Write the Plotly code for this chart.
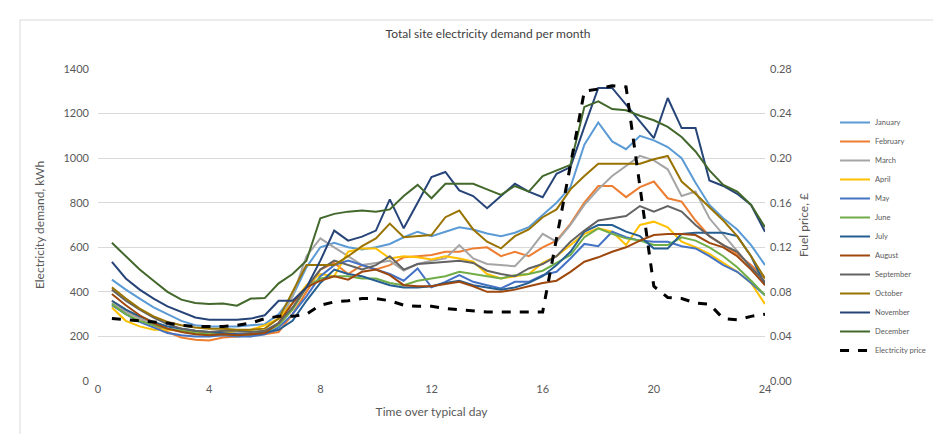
import plotly.graph_objects as go

hours = [h / 2 for h in range(1, 49)]

january = [455, 410, 370, 330, 300, 270, 250, 245, 245, 245, 250, 255, 300, 380, 510, 600,
           620, 600, 590, 600, 615, 645, 670, 650, 670, 690, 680, 662, 650, 665, 690, 745,
           800, 870, 1060, 1160, 1075, 1040, 1100, 1080, 1050, 1000, 890, 790, 730, 680, 610, 520]
february = [360, 320, 280, 250, 220, 195, 185, 182, 195, 200, 205, 210, 220, 300, 400, 500,
            530, 480, 520, 500, 520, 555, 560, 565, 580, 580, 595, 600, 560, 580, 560, 600,
            630, 705, 800, 875, 875, 825, 870, 895, 820, 805, 720, 650, 610, 570, 520, 460]
march = [350, 310, 280, 255, 235, 225, 220, 218, 220, 215, 215, 225, 260, 380, 560, 640,
         600, 560, 520, 530, 540, 495, 525, 540, 550, 610, 550, 525, 520, 515, 580, 660,
         625, 700, 790, 860, 920, 965, 1010, 990, 950, 830, 850, 730, 655, 580, 510, 445]
april = [330, 270, 245, 230, 230, 225, 220, 215, 215, 225, 230, 250, 280, 350, 430, 480,
         470, 580, 595, 595, 550, 560, 555, 545, 560, 550, 535, 480, 460, 470, 480, 530,
         560, 610, 660, 685, 670, 610, 700, 715, 690, 625, 600, 570, 530, 490, 440, 345]
may = [340, 300, 265, 240, 215, 205, 200, 200, 205, 200, 200, 210, 240, 300, 380, 470,
       520, 540, 520, 500, 480, 450, 505, 420, 445, 475, 445, 430, 415, 445, 445, 475,
       490, 550, 615, 605, 670, 645, 630, 625, 625, 605, 595, 560, 520, 490, 440, 385]
june = [345, 300, 270, 250, 235, 225, 215, 210, 210, 205, 210, 220, 250, 320, 420, 460,
        470, 470, 460, 460, 440, 430, 450, 460, 470, 490, 480, 470, 460, 475, 480, 495,
        530, 565, 645, 685, 660, 640, 630, 610, 610, 645, 630, 600, 560, 510, 450, 385]
july = [360, 320, 290, 265, 245, 235, 225, 220, 215, 210, 210, 215, 230, 270, 360, 440,
        500, 480, 470, 450, 430, 420, 420, 425, 440, 450, 430, 420, 410, 420, 440, 470,
        520, 580, 670, 700, 700, 670, 650, 595, 595, 660, 665, 665, 665, 650, 560, 430]
august = [390, 340, 295, 260, 235, 220, 210, 205, 210, 205, 210, 215, 260, 350, 420, 450,
          470, 455, 490, 500, 475, 430, 425, 425, 435, 445, 425, 400, 400, 410, 425, 440,
          450, 490, 535, 555, 580, 600, 630, 655, 660, 660, 655, 620, 600, 560, 500, 430]
september = [410, 360, 320, 285, 255, 235, 225, 220, 225, 225, 220, 225, 260, 330, 420, 500,
             540, 520, 500, 520, 560, 500, 525, 530, 535, 540, 530, 495, 480, 470, 505, 525,
             560, 625, 675, 720, 730, 740, 785, 760, 785, 760, 700, 650, 610, 580, 510, 445]
october = [420, 370, 325, 290, 265, 250, 240, 235, 235, 230, 230, 235, 280, 400, 520, 520,
           520, 560, 605, 640, 706, 645, 650, 655, 735, 765, 680, 625, 595, 650, 680, 735,
           770, 860, 920, 975, 975, 975, 975, 995, 1010, 895, 840, 780, 720, 650, 560, 460]
november = [535, 460, 410, 370, 335, 310, 285, 275, 275, 275, 280, 295, 360, 360, 420, 540,
            675, 630, 648, 675, 815, 685, 800, 915, 938, 855, 830, 775, 830, 885, 850, 825,
            930, 960, 1140, 1315, 1315, 1240, 1160, 1090, 1270, 1135, 1135, 900, 875, 840, 790, 670]
december = [620, 560, 500, 450, 400, 365, 350, 345, 348, 338, 370, 372, 438, 480, 540, 730,
            750, 760, 765, 760, 770, 830, 880, 820, 885, 885, 885, 860, 835, 875, 850, 920,
            945, 970, 1230, 1255, 1220, 1215, 1190, 1170, 1140, 1095, 1030, 945, 880, 850, 790, 690]
price = [0.056, 0.055, 0.054, 0.053, 0.052, 0.050, 0.049, 0.049, 0.049, 0.050, 0.052, 0.056,
         0.058, 0.058, 0.060, 0.068, 0.071, 0.072, 0.074, 0.074, 0.072, 0.068, 0.067, 0.067,
         0.065, 0.064, 0.063, 0.062, 0.062, 0.062, 0.062, 0.062, 0.128, 0.194, 0.260, 0.262,
         0.265, 0.264, 0.175, 0.085, 0.075, 0.074, 0.070, 0.069, 0.056, 0.055, 0.058, 0.060]

month_names = ["January", "February", "March", "April", "May", "June", "July",
               "August", "September", "October", "November", "December"]
month_values = [january, february, march, april, may, june, july,
                august, september, october, november, december]
month_colors = ["#5B9BD5", "#ED7D31", "#A5A5A5", "#FFC000", "#4472C4", "#70AD47",
                "#255E91", "#9E480E", "#636363", "#997300", "#264478", "#43682B"]

fig = go.Figure()
for name, vals, col in zip(month_names, month_values, month_colors):
    fig.add_trace(go.Scatter(x=hours, y=vals, name=name, mode="lines",
                             line=dict(color=col, width=2)))
fig.add_trace(go.Scatter(x=hours, y=price, name="Electricity price", mode="lines",
                         yaxis="y2", line=dict(color="black", width=3, dash="dash")))

gray = "#595959"
fig.update_layout(
    width=941, height=434,
    margin=dict(l=90, r=184, t=61, b=61),
    paper_bgcolor="white", plot_bgcolor="white",
    font=dict(family="Lato, Liberation Sans, sans-serif", color=gray, size=11),
    title=dict(text="Total site electricity demand per month", x=480 / 941, xref="container",
               xanchor="center", y=1 - 26 / 434, yanchor="middle",
               font=dict(size=12, color="#404040")),
    xaxis=dict(range=[0, 24], tickvals=[0, 4, 8, 12, 16, 20, 24], showgrid=False,
               zeroline=False, showline=False, ticks="", ticklabelstandoff=0,
               title=dict(text="Time over typical day", font=dict(size=12, color=gray), standoff=13)),
    yaxis=dict(range=[0, 1400], dtick=200, showgrid=True, gridcolor="#D9D9D9", gridwidth=1,
               zeroline=False, ticks="", ticklabelstandoff=8,
               title=dict(text="Electricity demand, kWh", font=dict(size=12, color=gray), standoff=16)),
    yaxis2=dict(range=[0, 0.28], dtick=0.04, tickformat=".2f", overlaying="y", side="right",
                showgrid=False, zeroline=False, ticks="", ticklabelstandoff=4,
                title=dict(text="Fuel price, £", font=dict(size=12, color=gray), standoff=8)),
    legend=dict(x=1.105, xanchor="left", y=0.875, yanchor="top", font=dict(size=7.5, color=gray),
                bgcolor="rgba(0,0,0,0)", tracegroupgap=0),
    shapes=[dict(type="rect", xref="paper", yref="paper",
                 x0=-78 / 667, x1=(935 - 90) / 667, y0=-(428 - 373) / 312, y1=(373 - 12) / 312,
                 line=dict(color="#D9D9D9", width=1))],
)

fig.write_html("out.html")
